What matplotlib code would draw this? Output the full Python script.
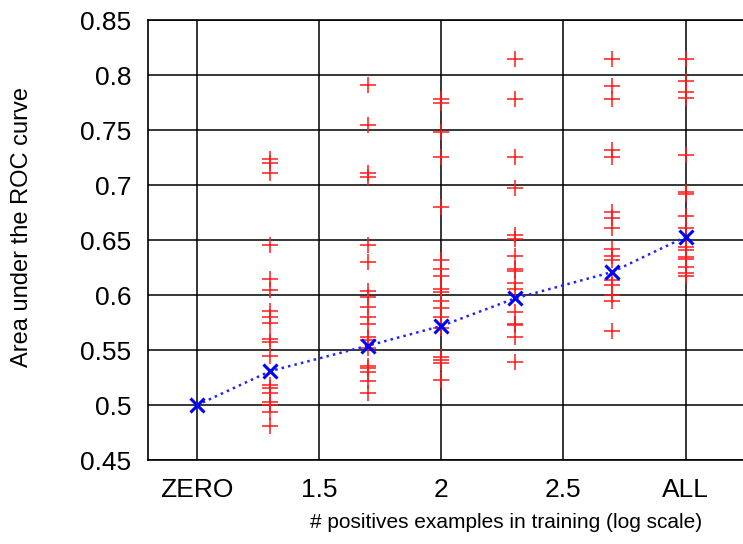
import numpy as np
import matplotlib
matplotlib.use("Agg")
import matplotlib.pyplot as plt

plt.rcParams['font.family'] = ['Liberation Sans', 'DejaVu Sans']

# log10 of number of positive examples (ZERO shown at 1, ALL at 3)
xs = [1.301, 1.699, 2.0, 2.301, 2.699, 3.0]

runs_20 = [0.724, 0.720, 0.711, 0.646, 0.615, 0.605, 0.586, 0.580, 0.575, 0.560,
           0.557, 0.545, 0.518, 0.516, 0.511, 0.503, 0.500, 0.494, 0.481]
runs_50 = [0.791, 0.755, 0.711, 0.707, 0.646, 0.630, 0.604, 0.598, 0.589, 0.580,
           0.574, 0.562, 0.559, 0.552, 0.536, 0.534, 0.530, 0.522, 0.511]
runs_100 = [0.778, 0.775, 0.748, 0.726, 0.680, 0.632, 0.624, 0.617, 0.606, 0.603,
            0.595, 0.588, 0.580, 0.570, 0.544, 0.541, 0.538, 0.523]
runs_200 = [0.815, 0.778, 0.726, 0.697, 0.655, 0.651, 0.636, 0.624, 0.622, 0.611,
            0.606, 0.585, 0.574, 0.573, 0.562, 0.539]
runs_500 = [0.815, 0.790, 0.778, 0.732, 0.726, 0.676, 0.670, 0.661, 0.642, 0.636,
            0.632, 0.614, 0.609, 0.600, 0.595, 0.567]
runs_all = [0.815, 0.795, 0.785, 0.779, 0.727, 0.694, 0.692, 0.672, 0.661, 0.644,
            0.641, 0.635, 0.633, 0.626, 0.620, 0.617]
all_runs = [runs_20, runs_50, runs_100, runs_200, runs_500, runs_all]

mean_x = [1.0, 1.301, 1.699, 2.0, 2.301, 2.699, 3.0]
mean_auc = [0.500, 0.531, 0.554, 0.572, 0.597, 0.621, 0.653]

xticks = [1.0, 1.5, 2.0, 2.5, 3.0]
xticklabels = ['ZERO', '1.5', '2', '2.5', 'ALL']
yticks = [0.45, 0.5, 0.55, 0.6, 0.65, 0.7, 0.75, 0.8, 0.85]

fig = plt.figure(figsize=(7.43, 5.44), dpi=100)
ax = fig.add_axes([0.199, 0.154, 0.801, 0.809])

for x, vals in zip(xs, all_runs):
    ax.plot([x] * len(vals), vals, linestyle='none', marker='+', color='#ff1a1a',
            markersize=11, markeredgewidth=1.1, zorder=3)

ax.plot(mean_x, mean_auc, linestyle=':', color='#2222ff', linewidth=1.8,
        marker='x', markersize=10, markeredgewidth=2.2, markeredgecolor='blue', zorder=4)

ax.set_xlim(0.8, 3.235)
ax.set_ylim(0.45, 0.85)
ax.set_xticks(xticks)
ax.set_xticklabels(xticklabels)
ax.set_yticks(yticks)
ax.set_yticklabels(['%g' % v for v in yticks])
ax.grid(True, color='black', linewidth=1.1, zorder=1)
ax.set_axisbelow(True)
ax.tick_params(direction='in', length=0, labelsize=19)
ax.tick_params(axis='x', pad=13)
ax.tick_params(axis='y', pad=12)
for s in ['left', 'bottom', 'top']:
    ax.spines[s].set_linewidth(1.2)
ax.spines['right'].set_visible(False)

fig.text(506 / 743, 1 - 523 / 544, '# positives examples in training (log scale)',
         fontsize=15, ha='center', va='center')
fig.text(22 / 743, 1 - 227 / 544, 'Area under the ROC curve',
         fontsize=17, rotation=90, ha='center', va='center')

fig.savefig('out.png', dpi=100)
